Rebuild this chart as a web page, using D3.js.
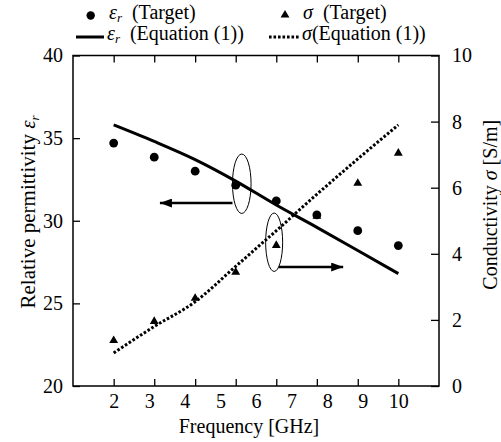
<!DOCTYPE html>
<html>
<head>
<meta charset="utf-8">
<script src="https://cdn.jsdelivr.net/npm/d3@7"></script>
<style>
  body { margin: 0; background: #fff; }
  svg { display: block; }
  svg text { font-family: "Liberation Serif", "Times New Roman", Times, "DejaVu Serif", serif; }
</style>
</head>
<body>
<svg id="chart"></svg>
<script>
// data
const freq = [2, 3.14, 4.29, 5.43, 6.57, 7.71, 8.86, 10];
const epsTarget = [34.7, 33.85, 33.0, 32.15, 31.2, 30.35, 29.4, 28.5];
const sigmaTarget = [1.39, 1.97, 2.67, 3.46, 4.27, 5.15, 6.15, 7.06];
const epsEq = [35.8, 34.8, 33.7, 32.4, 30.95, 29.6, 28.2, 26.8];
const sigmaEq = [1.0, 1.8, 2.55, 3.62, 4.7, 5.8, 6.87, 7.9];
const xTickLabels = [2, 3, 4, 5, 6, 7, 8, 9, 10];
const epsTicks = [20, 25, 30, 35, 40];
const sigmaTicks = [0, 2, 4, 6, 8, 10];

const width = 501, height = 442;
const pLeft = 73, pRight = 439, pTop = 55.5, pBottom = 386;

const svg = d3.select("#chart").attr("width", width).attr("height", height);

const x = d3.scaleLinear().domain([0.857, 11.143]).range([pLeft, pRight]);
const yL = d3.scaleLinear().domain([20, 40]).range([pBottom, pTop]);
const yR = d3.scaleLinear().domain([0, 10]).range([pBottom, pTop]);

// arrow head
svg.append("defs").append("marker")
    .attr("id", "head")
    .attr("markerUnits", "userSpaceOnUse")
    .attr("markerWidth", 13).attr("markerHeight", 9)
    .attr("refX", 12).attr("refY", 4.5)
    .attr("orient", "auto")
  .append("path")
    .attr("d", "M0,0 L12,4.5 L0,9 Z")
    .attr("fill", "#000");

// axes (ticks point inward)
const gx = svg.append("g").attr("transform", `translate(0,${pBottom})`)
    .call(d3.axisBottom(x).tickValues(freq).tickSizeInner(-7).tickSizeOuter(0).tickFormat(""));
const gxt = svg.append("g").attr("transform", `translate(0,${pTop})`)
    .call(d3.axisTop(x).tickValues(freq).tickSizeInner(-7).tickSizeOuter(0).tickFormat(""));
const gxl = svg.append("g").attr("transform", `translate(0,${pBottom})`)
    .call(d3.axisBottom(x).tickValues(xTickLabels).tickSize(0).tickPadding(8).tickFormat(d3.format("d")));
const gyl = svg.append("g").attr("transform", `translate(${pLeft},0)`)
    .call(d3.axisLeft(yL).tickValues(epsTicks).tickSizeInner(-7).tickSizeOuter(0).tickPadding(10));
const gyr = svg.append("g").attr("transform", `translate(${pRight},0)`)
    .call(d3.axisRight(yR).tickValues(sigmaTicks).tickSizeInner(-8).tickSizeOuter(0).tickPadding(13));

[gx, gxt, gxl, gyl, gyr].forEach(g => {
  g.attr("font-family", null).attr("font-size", 20);
  g.select(".domain").remove();
  g.selectAll("line").attr("stroke", "#000").attr("stroke-width", 1.3);
  g.selectAll("text").attr("fill", "#000");
});

svg.append("rect")
    .attr("x", pLeft).attr("y", pTop)
    .attr("width", pRight - pLeft).attr("height", pBottom - pTop)
    .attr("fill", "none").attr("stroke", "#000").attr("stroke-width", 1.5);

// axis titles
svg.append("text")
    .attr("x", 249).attr("y", 433)
    .attr("text-anchor", "middle").attr("font-size", 20)
    .text("Frequency [GHz]");

const tl = svg.append("text")
    .attr("transform", "translate(35,212) rotate(-90)")
    .attr("text-anchor", "middle").attr("font-size", 21);
tl.append("tspan").text("Relative permittivity ");
tl.append("tspan").attr("font-style", "italic").text("ε");
tl.append("tspan").attr("font-style", "italic").attr("font-size", 13).attr("dy", 4).text("r");

const tr = svg.append("text")
    .attr("transform", `translate(497,${(pTop + pBottom) / 2 - 16}) rotate(-90)`)
    .attr("text-anchor", "middle").attr("font-size", 20);
tr.append("tspan").text("Conductivity ");
tr.append("tspan").attr("font-style", "italic").text("σ");
tr.append("tspan").text(" [S/m]");

// lines
const line = yScale => d3.line().curve(d3.curveMonotoneX).x((d, i) => x(freq[i])).y(d => yScale(d));

svg.append("path")
    .attr("d", line(yL)(epsEq))
    .attr("fill", "none").attr("stroke", "#000").attr("stroke-width", 3);

svg.append("path")
    .attr("d", line(yR)(sigmaEq))
    .attr("fill", "none").attr("stroke", "#000").attr("stroke-width", 3)
    .attr("stroke-dasharray", "2.6,1.9");

// markers
svg.append("g").selectAll("path")
    .data(sigmaTarget).join("path")
    .attr("d", d3.symbol(d3.symbolTriangle, 34))
    .attr("transform", (d, i) => `translate(${x(freq[i])},${yR(d) + 0.5})`)
    .attr("fill", "#000");

svg.append("g").selectAll("circle")
    .data(epsTarget).join("circle")
    .attr("cx", (d, i) => x(freq[i]))
    .attr("cy", d => yL(d))
    .attr("r", 4.4)
    .attr("fill", "#000");

// annotation: ellipses with arrows pointing at the matching axis
svg.append("ellipse")
    .attr("cx", x(5.6)).attr("cy", yL(32.24))
    .attr("rx", 9.3).attr("ry", 29.7)
    .attr("fill", "none").attr("stroke", "#000").attr("stroke-width", 1);
svg.append("line")
    .attr("x1", x(5.6) - 9.3).attr("x2", x(3.3))
    .attr("y1", yL(31.07)).attr("y2", yL(31.07))
    .attr("stroke", "#000").attr("stroke-width", 2.6)
    .attr("marker-end", "url(#head)");

svg.append("ellipse")
    .attr("cx", x(6.51)).attr("cy", yR(4.35))
    .attr("rx", 8.5).attr("ry", 29.2)
    .attr("fill", "none").attr("stroke", "#000").attr("stroke-width", 1);
svg.append("line")
    .attr("x1", x(6.51) + 4.5).attr("x2", x(8.45))
    .attr("y1", yR(3.6)).attr("y2", yR(3.6))
    .attr("stroke", "#000").attr("stroke-width", 2.6)
    .attr("marker-end", "url(#head)");

// legend
const lg = svg.append("g").attr("font-size", 20);
function symbolLabel(g, xs, y, sym, rest) {
  const t = g.append("text").attr("x", xs).attr("y", y).attr("xml:space", "preserve");
  t.append("tspan").attr("font-style", "italic").text(sym.ch);
  if (sym.sub) t.append("tspan").attr("font-style", "italic").attr("font-size", 13).attr("dy", 3).text(sym.sub);
  const r = t.append("tspan").text(rest);
  if (sym.sub) r.attr("dy", -3);
  return t;
}
lg.append("circle").attr("cx", 90.7).attr("cy", 15.5).attr("r", 4.2).attr("fill", "#000");
symbolLabel(lg, 109, 18.5, {ch: "ε", sub: "r"}, "  (Target)");
lg.append("path").attr("d", d3.symbol(d3.symbolTriangle, 34)).attr("transform", "translate(285,15)");
symbolLabel(lg, 303, 18.5, {ch: "σ"}, "  (Target)");

lg.append("line").attr("x1", 76).attr("x2", 104).attr("y1", 37).attr("y2", 37)
    .attr("stroke", "#000").attr("stroke-width", 3);
symbolLabel(lg, 107, 40, {ch: "ε", sub: "r"}, "  (Equation (1))");
lg.append("line").attr("x1", 269).attr("x2", 300).attr("y1", 37).attr("y2", 37)
    .attr("stroke", "#000").attr("stroke-width", 3).attr("stroke-dasharray", "2.6,1.9");
symbolLabel(lg, 302, 40, {ch: "σ"}, "(Equation (1))");
</script>
</body>
</html>
